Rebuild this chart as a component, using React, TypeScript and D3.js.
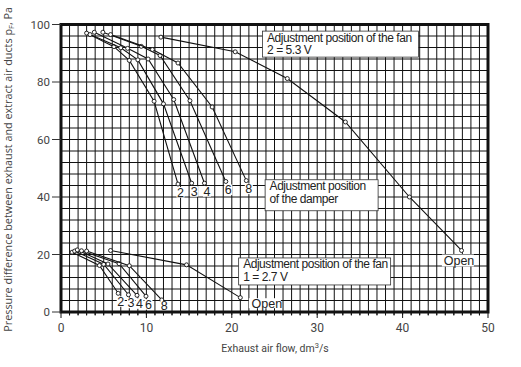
import React from 'react';
import * as d3 from 'd3';

// flow (dm3/s) vs pressure difference (Pa)
// fan adjustment position 2 = 5.3 V
const upper2 = [[3.0, 97], [6.2, 92.3], [8.0, 87.5], [10.9, 73.3], [13.7, 44.5]];
const upper3 = [[3.4, 96.5], [7.0, 91.9], [9.0, 87.7], [12.0, 72.4], [15.3, 44.8]];
const upper4 = [[3.9, 97.3], [7.8, 91.7], [10.2, 88.0], [13.2, 73.9], [16.8, 44.8]];
const upper6 = [[4.9, 97.3], [9.4, 92.4], [11.6, 89.2], [15.1, 73.5], [19.3, 45.4]];
const upper8 = [[5.8, 96.5], [10.7, 91.3], [13.7, 86.6], [17.7, 71.3], [21.7, 45.7]];
const upperOpen = [[11.7, 95.6], [20.4, 90.5], [26.5, 81.2], [33.3, 66.1], [40.8, 40.0], [46.9, 21.4]];

// fan adjustment position 1 = 2.7 V
const lower2 = [[1.3, 20.8], [4.5, 16.2], [6.7, 6.5]];
const lower3 = [[1.6, 21.2], [5.0, 16.6], [7.9, 6.0]];
const lower4 = [[1.9, 21.6], [5.5, 16.7], [8.9, 5.8]];
const lower6 = [[2.4, 21.3], [6.8, 16.8], [9.95, 5.5]];
const lower8 = [[3.0, 21.2], [8.0, 16.1], [11.8, 4.2]];
const lowerOpen = [[5.8, 21.4], [14.7, 16.4], [21.0, 5.0]];

const damperLabels = ['2', '3', '4', '6', '8'];
const xTicks = [0, 10, 20, 30, 40, 50];
const yTicks = [0, 20, 40, 60, 80, 100];

const W = 521;
const H = 367;
const x = d3.scaleLinear().domain([0, 50]).range([61, 488]);
const y = d3.scaleLinear().domain([0, 100]).range([312, 24.5]);

const line = d3.line<number[]>()
  .x(d => x(d[0]))
  .y(d => y(d[1]));

const font = "'Liberation Sans', Arial, sans-serif";
const axisFont = "Roboto, 'Open Sans', sans-serif";

function Curve({ pts }: { pts: number[][] }) {
  return (
    <g>
      <path d={line(pts) || ''} fill="none" stroke="#111" strokeWidth={1.1} />
      {pts.map((p, i) => (
        <circle key={i} cx={x(p[0])} cy={y(p[1])} r={2} fill="#fff" stroke="#111" strokeWidth={0.9} />
      ))}
    </g>
  );
}

function EndLabel({ pt, text, dy = 12.5 }: { pt: number[]; text: string; dy?: number }) {
  const cx = x(pt[0]) + 2.5;
  const cy = y(pt[1]);
  return (
    <g>
      <rect x={cx - 4} y={cy + dy - 9.5} width={8} height={10.5} fill="#fff" />
      <text x={cx} y={cy + dy} textAnchor="middle" fontSize={12.5} fontFamily={font} fill="#222">{text}</text>
    </g>
  );
}

function Note({ x0, y0, w, h, lines, border = true }: { x0: number; y0: number; w: number; h: number; lines: string[]; border?: boolean }) {
  return (
    <g>
      <rect x={x0} y={y0} width={w} height={h} fill="#fff" stroke={border ? '#333' : 'none'} strokeWidth={0.8} />
      {lines.map((t, i) => (
        <text key={i} x={x0 + 4.5} y={y0 + 10.5 + i * 12.5} fontSize={12} letterSpacing={-0.45} fontFamily={font} fill="#222">{t}</text>
      ))}
    </g>
  );
}

export default function App() {
  const upper = [upper2, upper3, upper4, upper6, upper8];
  const lower = [lower2, lower3, lower4, lower6, lower8];
  const gridX = d3.range(1, 50);
  const gridY = d3.range(4, 100, 4);
  const minorX = d3.range(0, 51);

  return (
    <svg width={W} height={H} style={{ position: 'absolute', left: 0, top: 0, background: '#fff' }}>
      {/* grid */}
      <g stroke="#111" strokeWidth={1}>
        {gridX.map(v => <line key={'gx' + v} x1={x(v)} x2={x(v)} y1={y(100)} y2={y(0) + 3} />)}
        {gridY.map(v => <line key={'gy' + v} x1={x(0)} x2={x(50)} y1={y(v)} y2={y(v)} />)}
        {minorX.map(v => <line key={'mx' + v} x1={x(v)} x2={x(v)} y1={y(0)} y2={y(0) + (v % 10 === 0 ? 6 : 3.5)} />)}
      </g>

      {/* curves */}
      {upper.map((c, i) => <Curve key={'u' + i} pts={c} />)}
      <Curve pts={upperOpen} />
      {lower.map((c, i) => <Curve key={'l' + i} pts={c} />)}
      <Curve pts={lowerOpen} />

      {/* damper labels */}
      {upper.map((c, i) => <EndLabel key={'ul' + i} pt={c[c.length - 1]} text={damperLabels[i]} />)}
      {lower.map((c, i) => <EndLabel key={'ll' + i} pt={c[c.length - 1]} text={damperLabels[i]} dy={i === 4 ? 10.5 : 12.5} />)}

      {/* annotations */}
      <Note x0={x(23.6)} y0={y(97.7)} w={156} h={26} lines={['Adjustment position of the fan', '2 = 5.3 V']} />
      <Note x0={x(23.9)} y0={y(46.0)} w={113} h={31} lines={['Adjustment position', 'of the damper']} />
      <Note x0={x(20.8)} y0={y(18.8)} w={152} h={27} lines={['Adjustment position of the fan', '1 = 2.7 V']} />
      <g>
        <rect x={x(44.6)} y={y(20)} width={32} height={12} fill="#fff" />
        <text x={x(44.7) + 1} y={y(20) + 10} fontSize={12.5} fontFamily={font} fill="#222">Open</text>
      </g>
      <g>
        <rect x={x(22.0)} y={y(4.8)} width={32} height={10} fill="#fff" />
        <text x={x(22.2) + 1} y={y(4.8) + 9.5} fontSize={12.5} fontFamily={font} fill="#222">Open</text>
      </g>

      {/* frame */}
      <rect x={x(0)} y={y(100)} width={x(50) - x(0)} height={y(0) - y(100)} fill="none" stroke="#111" strokeWidth={3} />

      {/* y ticks */}
      {yTicks.map(v => (
        <g key={'yt' + v}>
          <line x1={x(0) - 9} x2={x(0)} y1={y(v)} y2={y(v)} stroke="#333" strokeWidth={1} />
          <text x={x(0) - 11} y={y(v) + 4} textAnchor="end" fontSize={11.5} fontFamily={axisFont} fill="#444">{v}</text>
        </g>
      ))}
      {/* x ticks */}
      {xTicks.map(v => (
        <text key={'xt' + v} x={x(v)} y={332} textAnchor="middle" fontSize={12} fontFamily={axisFont} fill="#444">{v}</text>
      ))}

      <text x={275} y={352} textAnchor="middle" fontSize={10.5} fontFamily={axisFont} fill="#444">
        Exhaust air flow, dm<tspan dy={-4} fontSize={7.5}>3</tspan><tspan dy={4}>/s</tspan>
      </text>
      <text transform="translate(12,7) rotate(-90)" textAnchor="end" fontSize={10.8} fontFamily="'Open Sans', Roboto, sans-serif" fill="#444">
        Pressure difference between exhaust and extract air ducts p<tspan dy={2} fontSize={7.5}>F</tspan><tspan dy={-2}>, Pa</tspan>
      </text>
    </svg>
  );
}
